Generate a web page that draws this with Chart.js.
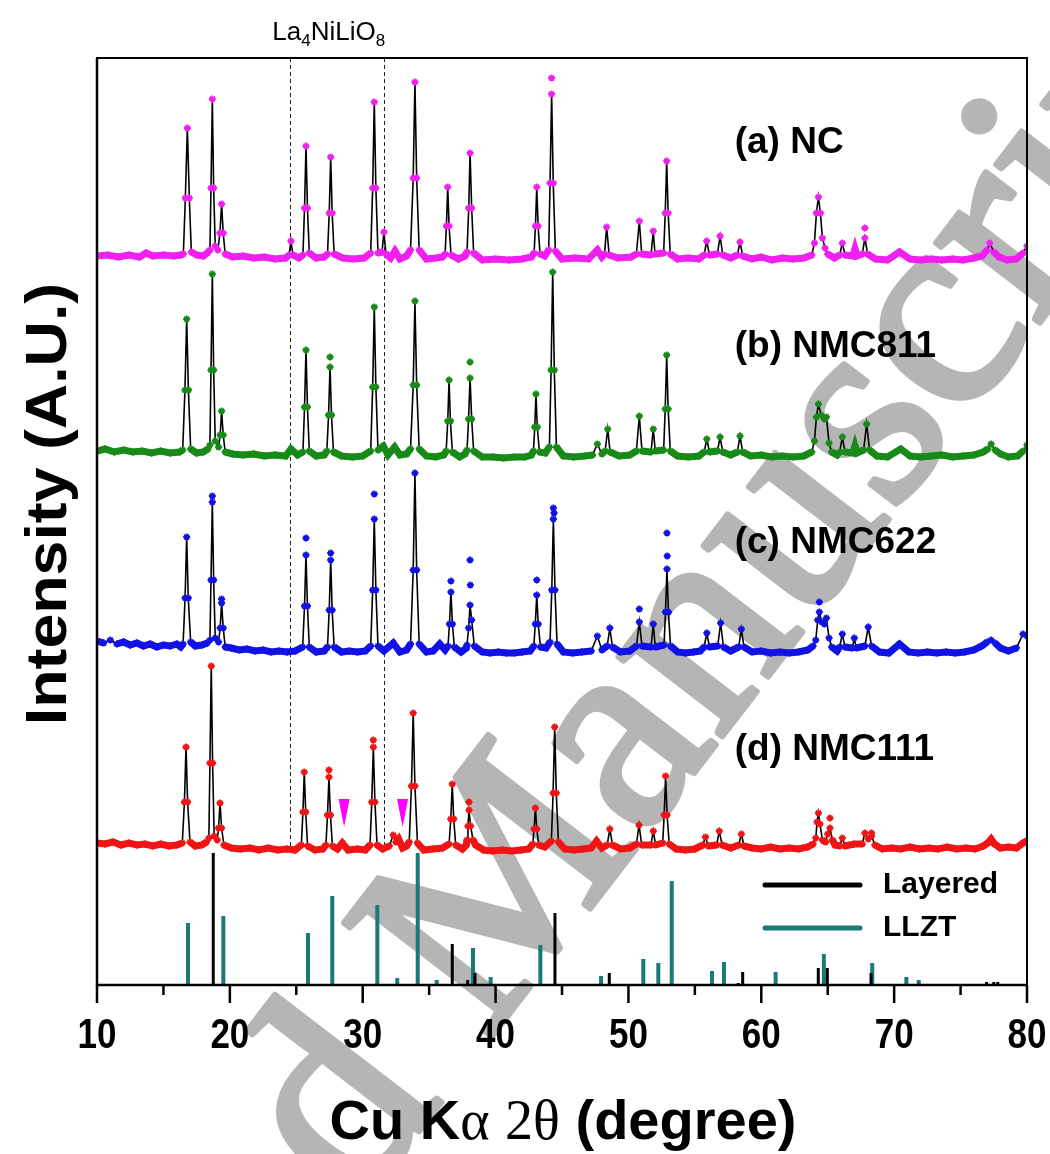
<!DOCTYPE html>
<html><head><meta charset="utf-8">
<script src="https://cdn.jsdelivr.net/npm/chart.js@4.4.1/dist/chart.umd.min.js"></script>
<style>html,body{margin:0;padding:0;background:#fff;}canvas{display:block;}</style>
</head><body>
<canvas id="c" width="1050" height="1154"></canvas>
<script>
// ---------------- DATA ----------------
const sampleNames = ['(a) NC', '(b) NMC811', '(c) NMC622', '(d) NMC111'];
const sampleColors = ['#f020f0', '#178a17', '#1212e6', '#f01414'];
const offsets = [727, 530, 335, 137];   // vertical stacking offsets (A.U.)

// [2theta, intensity above own baseline]
const ncProfile = [[10,2],[10.8,3],[11.6,1],[12.4,3],[13.2,1],[13.7,5],[14.2,2],[15,3],[15.8,2],[16.3,3],
 [16.5,4],[16.65,60],[16.8,130],[16.95,60],[17.1,6],[17.5,3],[18.0,2],[18.3,5],
 [18.5,8],[18.58,70],[18.68,159],[18.78,70],[18.9,12],
 [19.1,8],[19.25,25],[19.38,54],[19.5,25],[19.65,4],
 [20.2,1],[21,2],[21.8,0],[22.6,1],[23.4,-1],[24.2,0],[24.45,3],[24.6,17],[24.75,3],[25.2,0],
 [25.5,3],[25.62,50],[25.73,112],[25.84,50],[25.98,5],[26.5,0],[27.1,1],
 [27.35,4],[27.48,45],[27.59,101],[27.7,45],[27.85,4],[28.5,0],[29.3,-1],[30.1,0],
 [30.6,5],[30.75,70],[30.87,156],[30.99,70],[31.15,5],[31.45,6],[31.6,26],[31.75,4],
 [32.1,0],[32.43,7],[32.8,-1],[33.3,2],
 [33.6,8],[33.8,80],[33.93,176],[34.06,80],[34.25,8],[34.8,-1],[35.5,0],[36.0,1],
 [36.2,4],[36.3,32],[36.4,71],[36.5,32],[36.65,3],[37.2,-1],[37.7,2],
 [37.85,6],[37.98,50],[38.08,105],[38.2,50],[38.35,5],[39,-2],[40,-1],[41,-2],[42,-1],[42.7,1],
 [42.9,5],[43.0,32],[43.1,71],[43.2,32],[43.35,4],[43.7,2],
 [44.0,8],[44.1,75],[44.22,164],[44.34,75],[44.5,7],[45,-1],[46,0],[47,-1],[47.66,8],[48.0,1],
 [48.2,4],[48.36,31],[48.55,3],[49.2,0],[50.2,1],[50.6,4],[50.82,37],[51.0,4],
 [51.7,3],[51.87,27],[52.0,4],[52.65,5],[52.77,45],[52.88,97],[52.99,45],[53.15,4],
 [53.7,-1],[54.5,0],[55.3,-1],[55.7,3],[55.89,17],[56.1,3],[56.7,4],[56.9,22],[57.1,3],[57.7,0],
 [58.2,3],[58.4,16],[58.6,2],[59.3,-1],[60,1],[60.8,-2],[61.6,0],[62.4,-1],[63.2,0],[63.8,3],
 [64.0,15],[64.15,45],[64.3,61],[64.45,45],[64.6,20],[64.8,10],[65.0,4],[65.5,0],
 [65.9,3],[66.1,15],[66.3,3],[66.9,2],[67.05,9],[67.2,2],[67.6,4],[67.8,20],[68.0,4],
 [68.6,-1],[69.5,-2],[70.4,6],[71.2,-1],[72,-2],[72.8,-1],[73.6,-2],[74.4,-1],[75.2,-2],[76,0],[76.6,2],
 [77.0,8],[77.2,15],[77.5,6],[77.9,1],[78.5,-2],[79.2,-1],[79.7,5],[80,12]];
const ncTops = [[44.22,180],[67.8,30]];

const nmc811Profile = [[10,4],[10.6,6],[11.3,3],[12,5],[12.7,3],[13.4,4],[14.1,2],[14.8,4],[15.5,2],[16.2,3],
 [16.45,5],[16.62,65],[16.75,136],[16.88,65],[17.05,6],[17.5,2],[18.0,3],[18.35,6],
 [18.5,10],[18.58,85],[18.68,181],[18.78,85],[18.9,14],
 [19.15,8],[19.27,20],[19.38,44],[19.5,20],[19.65,3],
 [20.2,1],[21,0],[21.8,1],[22.6,-1],[23.4,0],[24.2,-1],[24.6,6],[25.1,0],
 [25.5,3],[25.62,48],[25.73,105],[25.84,48],[25.98,4],[26.5,-1],[27.1,0],
 [27.3,4],[27.43,40],[27.54,88],[27.65,40],[27.8,3],[28.4,-1],[29.2,-2],[30.0,-1],
 [30.6,4],[30.75,68],[30.87,148],[30.99,68],[31.15,5],[31.55,9],[31.9,0],[32.4,8],[32.8,0],[33.3,1],
 [33.6,6],[33.8,70],[33.93,154],[34.06,70],[34.25,6],[34.8,-1],[35.5,-2],[36.1,0],
 [36.28,4],[36.4,34],[36.5,75],[36.6,34],[36.75,3],[37.3,-2],[37.7,1],
 [37.85,5],[37.97,36],[38.08,77],[38.2,36],[38.35,4],[39,-2],[39.8,-2],[40.6,-3],[41.4,-2],[42.2,-2],[42.7,0],
 [42.85,4],[42.95,28],[43.04,61],[43.14,28],[43.3,3],[43.75,2],
 [44.05,8],[44.18,85],[44.3,183],[44.42,85],[44.58,8],[45.1,-1],[45.9,-2],[46.7,-1],[47.3,0],[47.66,11],[48.0,1],
 [48.25,4],[48.44,26],[48.62,3],[49.3,-1],[50.1,0],[50.6,4],[50.82,39],[51.02,4],
 [51.7,3],[51.87,26],[52.02,4],[52.65,5],[52.77,46],[52.88,100],[52.99,46],[53.15,4],
 [53.7,-1],[54.5,-2],[55.3,-1],[55.7,3],[55.9,16],[56.1,3],[56.7,4],[56.9,18],[57.1,3],[57.7,0],
 [58.2,3],[58.4,19],[58.6,3],[59.2,-1],[60,0],[60.8,-2],[61.6,-1],[62.4,-2],[63.2,-1],[63.8,3],
 [64.0,14],[64.15,38],[64.3,51],[64.5,40],[64.75,36],[64.9,38],[65.1,12],[65.3,3],[65.7,0],
 [65.9,3],[66.1,18],[66.3,3],[66.9,2],[67.05,9],[67.2,2],[67.7,5],[67.93,31],[68.15,5],
 [68.7,-1],[69.5,-2],[70.5,6],[71.2,-1],[72,-2],[72.8,-1],[73.6,0],[74.4,-2],[75.2,-1],[76,0],[76.7,3],
 [77.05,6],[77.3,11],[77.6,5],[78,1],[78.6,-2],[79.3,-1],[79.7,4],[80,10]];
const nmc811Tops = [[27.54,98],[38.08,93]];

const nmc622Profile = [[10,9],[10.5,7],[11,10],[11.5,6],[12,8],[12.5,5],[13,7],[13.5,4],[14,6],[14.5,3],[15,5],[15.5,4],[16,6],[16.3,3],
 [16.48,6],[16.63,52],[16.75,113],[16.87,52],[17.05,8],[17.4,4],[17.9,5],[18.3,7],
 [18.5,10],[18.58,70],[18.68,148],[18.78,70],[18.9,12],
 [19.15,8],[19.27,22],[19.38,47],[19.5,22],[19.65,3],
 [20.1,2],[20.7,0],[21.3,1],[21.9,-1],[22.5,0],[23.1,-2],[23.7,-1],[24.3,-2],[24.9,-1],
 [25.48,3],[25.62,44],[25.73,95],[25.84,44],[25.98,3],[26.5,-2],[27.1,-1],
 [27.35,3],[27.48,40],[27.59,90],[27.7,40],[27.85,3],[28.4,-2],[29,-1],[29.6,-2],[30.2,-1],
 [30.6,4],[30.75,60],[30.87,131],[30.99,60],[31.15,4],[31.6,-1],[32.3,7],[32.8,-2],[33.3,0],
 [33.6,6],[33.8,80],[33.93,177],[34.06,80],[34.25,6],[34.8,-2],[35.3,-1],[35.8,6],[36.2,0],
 [36.42,4],[36.53,26],[36.64,58],[36.75,26],[36.9,3],[37.4,-2],[37.8,2],
 [37.85,5],[37.97,22],[38.08,45],[38.2,30],[38.4,4],[39,-2],[39.6,-3],[40.2,-2],[40.8,-3],[41.4,-3],[42,-2],[42.6,-1],
 [42.88,4],[42.99,26],[43.1,55],[43.21,26],[43.38,3],[43.8,2],
 [44.1,8],[44.23,60],[44.35,131],[44.47,60],[44.63,6],[45.1,-2],[45.8,-3],[46.5,-2],[47.2,-1],[47.66,14],[48.0,0],
 [48.4,4],[48.6,22],[48.8,3],[49.4,-2],[50.1,-1],[50.6,4],[50.82,28],[51.02,4],
 [51.7,3],[51.87,26],[52.02,3],[52.68,5],[52.79,38],[52.9,81],[53.01,38],[53.17,4],
 [53.7,-2],[54.3,-3],[54.9,-2],[55.4,-1],[55.7,3],[55.9,17],[56.1,3],[56.72,4],[56.94,27],[57.15,3],[57.7,-1],
 [58.3,3],[58.5,21],[58.7,3],[59.3,-2],[60,-1],[60.7,-3],[61.4,-2],[62.1,-3],[62.8,-2],[63.5,0],[63.9,4],
 [64.1,10],[64.25,30],[64.37,38],[64.55,28],[64.75,26],[64.9,32],[65.1,12],[65.3,3],[65.7,-1],
 [65.9,3],[66.1,16],[66.3,3],[66.85,2],[67.0,12],[67.15,2],[67.8,4],[68.05,23],[68.3,4],
 [68.9,-2],[69.6,-3],[70.4,6],[71.1,-2],[71.8,-3],[72.5,-2],[73.2,-3],[73.9,-2],[74.6,-3],[75.3,-2],[76,0],[76.6,4],
 [77.0,8],[77.3,10],[77.6,7],[78,2],[78.6,-1],[79.2,2],[79.7,16],[80,14]];
const nmc622Tops = [[18.68,154],[19.38,51],[25.73,112],[27.59,97],[30.87,156],[36.64,69],[38.08,90],[38.1,65],
 [43.1,70],[44.35,142],[44.4,137],[50.82,41],[52.9,117],[52.92,94],[64.37,48]];

const nmc111Profile = [[10,5],[10.6,4],[11.2,6],[11.8,3],[12.4,5],[13,3],[13.6,4],[14.2,2],[14.8,4],[15.4,2],[16,3],
 [16.42,5],[16.58,46],[16.7,101],[16.82,46],[17.0,6],[17.4,2],[17.9,3],[18.25,6],
 [18.42,10],[18.5,85],[18.6,182],[18.7,85],[18.82,12],
 [19.05,8],[19.15,20],[19.26,45],[19.38,20],[19.55,3],
 [20.1,0],[20.8,-1],[21.5,0],[22.2,-2],[22.9,0],[23.6,-2],[24.3,-1],[24.9,-2],
 [25.38,3],[25.5,36],[25.6,76],[25.71,36],[25.85,2],[26.4,-2],[27.0,-1],
 [27.23,3],[27.35,33],[27.46,71],[27.57,33],[27.72,2],[28.1,-1],[28.46,5],[28.9,-2],[29.6,-1],[30.2,-2],
 [30.55,3],[30.68,46],[30.8,101],[30.92,46],[31.08,3],[31.5,-1],[32.0,2],[32.3,13],[32.5,6],[32.7,9],[33.0,0],[33.3,2],
 [33.5,6],[33.67,62],[33.8,135],[33.93,62],[34.12,5],[34.6,-2],[35.3,-1],[36.0,0],
 [36.5,4],[36.63,29],[36.74,64],[36.85,29],[37.0,3],[37.5,-1],[37.8,3],
 [37.85,8],[37.92,22],[38.0,38],[38.12,22],[38.3,8],[38.5,3],[39.1,-2],[39.8,-3],[40.5,-2],[41.2,-3],[41.9,-2],[42.5,-1],
 [42.8,4],[42.9,19],[43.0,40],[43.1,19],[43.25,3],[43.7,1],
 [44.2,7],[44.33,55],[44.45,121],[44.57,55],[44.73,6],[45.2,-1],[45.9,-2],[46.6,-1],[47.2,0],[47.6,7],[48.0,0],
 [48.4,3],[48.6,19],[48.8,3],[49.4,-1],[50.1,0],[50.6,4],[50.8,23],[51.0,3],
 [51.7,3],[51.87,17],[52.05,3],[52.58,5],[52.69,33],[52.8,72],[52.91,33],[53.07,4],
 [53.6,-1],[54.3,-2],[55,-1],[55.6,3],[55.8,11],[56.0,2],[56.64,3],[56.84,17],[57.05,3],[57.7,0],
 [58.3,3],[58.5,14],[58.7,2],[59.3,0],[60,-1],[60.7,1],[61.4,-1],[62.1,0],[62.8,-1],[63.5,1],[63.9,4],
 [64.1,10],[64.2,26],[64.3,35],[64.42,24],[64.6,8],[64.85,6],[65.0,14],[65.17,20],[65.35,8],[65.55,3],
 [65.9,2],[66.1,10],[66.3,2],[67.0,4],[67.6,4],[67.8,15],[68.05,9],[68.3,12],[68.55,3],
 [69.1,-1],[69.8,0],[70.5,-1],[71.2,1],[71.9,-1],[72.6,0],[73.3,-1],[74,1],[74.7,-1],[75.4,0],[76.1,-1],[76.7,2],
 [77.05,5],[77.3,9],[77.55,4],[78,0],[78.6,1],[79.2,0],[79.7,5],[80,7]];
const nmc111Tops = [[27.46,78],[30.8,108],[38.0,46],[65.17,30],[68.3,15]];

// reference stick patterns
const layeredPos = [18.75, 36.74, 37.9, 38.45, 44.47, 48.56, 58.27, 58.6, 64.29, 64.97, 68.26, 76.96, 77.5, 77.8];
const layeredInt = [132, 41, 5, 12, 72, 12, 2, 13, 17, 17, 12, 3, 3, 3];
const llztPos = [16.85, 19.51, 25.88, 27.71, 31.1, 32.6, 34.14, 35.57, 38.3, 39.63, 43.37, 47.94, 51.12, 52.25, 53.26, 56.29, 57.19, 61.08, 64.71, 68.35, 70.92, 71.85];
const llztInt = [62, 69, 52, 89, 80, 7, 132, 5, 37, 8, 40, 9, 26, 22, 104, 14, 23, 13, 31, 22, 8, 5];

const impurityPos = [28.6, 33.0];          // La4NiLiO8-type impurity marks on NMC111
const impurityLevel = 21;                  // tip height above NMC111 baseline
const laLines = [24.55, 31.58];            // La4NiLiO8 reference positions
const xTicks = [10, 20, 30, 40, 50, 60, 70, 80];
const legendNames = ['Layered', 'LLZT'];
const stickColors = ['#000000', '#1a7a78'];

// ---------------- BUILD ----------------
const profiles = [ncProfile, nmc811Profile, nmc622Profile, nmc111Profile];
const tops = [ncTops, nmc811Tops, nmc622Tops, nmc111Tops];
const toXY = (arr, off) => arr.map(p => ({x: p[0], y: p[1] + off}));
const sticks = (pos, val) => { const out = []; pos.forEach((p, i) => { out.push({x: p, y: 0}, {x: p, y: val[i]}, {x: p, y: null}); }); return out; };

const datasets = [];
profiles.forEach((prof, i) => {
  const off = offsets[i], col = sampleColors[i];
  const base = v => Math.abs(v - off) < 10;
  datasets.push({ label: sampleNames[i] + ' fit', data: toXY(prof, off), borderColor: '#000', borderWidth: 1.6,
    pointRadius: 0, order: 5, tension: 0 });
  datasets.push({ label: sampleNames[i], data: toXY(prof, off), borderColor: col, borderWidth: 7,
    segment: { borderColor: c => (base(c.p0.parsed.y) && base(c.p1.parsed.y)) ? col : 'rgba(0,0,0,0)' },
    pointStyle: 'star', pointRadius: 3.5, pointBorderWidth: 1.8, pointBorderColor: col, pointBackgroundColor: col,
    order: 3, tension: 0 });
  datasets.push({ label: sampleNames[i] + ' obs', data: toXY(tops[i], off), showLine: false,
    pointStyle: 'star', pointRadius: 3.5, pointBorderWidth: 1.8, pointBorderColor: col, pointBackgroundColor: col, order: 2 });
});
datasets.push({ label: legendNames[1], data: sticks(llztPos, llztInt), borderColor: stickColors[1], borderWidth: 4,
  borderCapStyle: 'butt', pointRadius: 0, spanGaps: false, order: 7 });
datasets.push({ label: legendNames[0], data: sticks(layeredPos, layeredInt), borderColor: stickColors[0], borderWidth: 3,
  borderCapStyle: 'butt', pointRadius: 0, spanGaps: false, order: 6 });

const SANS = '"Liberation Sans", Arial, sans-serif';
const SERIF = '"Liberation Serif", "Times New Roman", serif';

function stretchedText(ctx, txt, x, y, font, sx, sy, align, baseline) {
  ctx.save(); ctx.translate(x, y); ctx.scale(sx, sy);
  ctx.font = font; ctx.textAlign = align; ctx.textBaseline = baseline; ctx.fillText(txt, 0, 0); ctx.restore();
}

const deco = {
  id: 'deco',
  beforeDraw(chart) {
    const ctx = chart.ctx;
    ctx.save(); ctx.fillStyle = '#fff'; ctx.fillRect(0, 0, chart.width, chart.height);
    // watermark
    ctx.translate(487, 1043); ctx.rotate(-52.5 * Math.PI / 180);
    ctx.font = '285px ' + SERIF; ctx.fillStyle = '#b5b5b5'; ctx.strokeStyle = '#b5b5b5'; ctx.lineWidth = 6;
    ctx.lineJoin = 'round'; ctx.textBaseline = 'alphabetic';
    const w = ctx.measureText('Accepted ').width;
    ctx.fillText('Accepted Manuscript', -w, 0);
    ctx.strokeText('Accepted Manuscript', -w, 0);
    ctx.restore();
  },
  beforeDatasetsDraw(chart) {
    const ctx = chart.ctx, xs = chart.scales.x, ys = chart.scales.y, a = chart.chartArea;
    ctx.save(); ctx.strokeStyle = '#222'; ctx.lineWidth = 1; ctx.setLineDash([4, 3]);
    laLines.forEach(v => { const px = Math.round(xs.getPixelForValue(v)) + 0.5;
      ctx.beginPath(); ctx.moveTo(px, a.top); ctx.lineTo(px, ys.getPixelForValue(offsets[3])); ctx.stroke(); });
    ctx.restore();
  },
  afterDatasetsDraw(chart) {
    const ctx = chart.ctx, xs = chart.scales.x, ys = chart.scales.y, a = chart.chartArea;
    ctx.save();
    // impurity triangles
    ctx.fillStyle = '#ff00ff';
    impurityPos.forEach(v => { const px = xs.getPixelForValue(v), py = ys.getPixelForValue(offsets[3] + impurityLevel);
      ctx.beginPath(); ctx.moveTo(px - 5.5, py - 28); ctx.lineTo(px + 5.5, py - 28); ctx.lineTo(px, py); ctx.closePath(); ctx.fill(); });
    // frame
    ctx.strokeStyle = '#000'; ctx.lineWidth = 2;
    ctx.strokeRect(a.left, a.top, a.right - a.left, a.bottom - a.top);
    ctx.lineWidth = 2.5;
    ctx.beginPath(); ctx.moveTo(a.left, a.top); ctx.lineTo(a.left, a.bottom); ctx.lineTo(a.right, a.bottom); ctx.stroke();
    // ticks
    for (let v = 10; v <= 80; v += 5) {
      const px = xs.getPixelForValue(v), major = v % 10 === 0;
      ctx.beginPath(); ctx.moveTo(px, a.bottom); ctx.lineTo(px, a.bottom + (major ? 18 : 10)); ctx.stroke();
    }
    ctx.fillStyle = '#000';
    xTicks.forEach(v => stretchedText(ctx, String(v), xs.getPixelForValue(v), 1048, 'bold 35px ' + SANS, 1, 1.22, 'center', 'alphabetic'));
    // x title with mixed fonts
    const parts = [['Cu K', 'bold 56px ' + SANS], ['\u03B1', '56px ' + SERIF], [' ', 'bold 56px ' + SANS], ['2\u03B8', '56px ' + SERIF], [' (degree)', 'bold 56px ' + SANS]];
    let tot = 0; parts.forEach(p => { ctx.font = p[1]; tot += ctx.measureText(p[0]).width; });
    let cx = 563 - tot / 2; ctx.textBaseline = 'alphabetic'; ctx.textAlign = 'left';
    parts.forEach(p => { ctx.font = p[1]; ctx.fillText(p[0], cx, 1139); cx += ctx.measureText(p[0]).width; });
    // y title
    ctx.save(); ctx.translate(66, 504); ctx.rotate(-Math.PI / 2); ctx.scale(1.1, 1);
    ctx.font = 'bold 57px ' + SANS; ctx.textAlign = 'center'; ctx.textBaseline = 'alphabetic'; ctx.fillText('Intensity (A.U.)', 0, 0);
    ctx.restore();
    // sample labels
    const labelLift = [115, 108, 107, 98];
    sampleNames.forEach((n, i) => { ctx.font = 'bold 37px ' + SANS; ctx.textAlign = 'left'; ctx.textBaseline = 'middle';
      ctx.fillText(n, xs.getPixelForValue(58.0), ys.getPixelForValue(offsets[i] + labelLift[i])); });
    // La4NiLiO8 label
    const la = [['La', 26, 0], ['4', 17, 6], ['NiLiO', 26, 0], ['8', 17, 6]];
    let lx = xs.getPixelForValue(laLines[0]) - 18; ctx.textBaseline = 'alphabetic'; ctx.textAlign = 'left';
    la.forEach(s => { ctx.font = s[1] + 'px ' + SANS; ctx.fillText(s[0], lx, 40 + s[2]); lx += ctx.measureText(s[0]).width; });
    // legend
    legendNames.forEach((n, i) => { const y = 885 + i * 43;
      ctx.strokeStyle = stickColors[i]; ctx.lineWidth = 5; ctx.lineCap = 'round';
      ctx.beginPath(); ctx.moveTo(765, y); ctx.lineTo(860, y); ctx.stroke();
      ctx.font = 'bold 30px ' + SANS; ctx.textBaseline = 'middle'; ctx.textAlign = 'left'; ctx.fillText(n, 883, y); });
    ctx.restore();
  }
};

new Chart(document.getElementById('c'), {
  type: 'line',
  data: { datasets },
  options: {
    responsive: false, animation: false, events: [],
    layout: { padding: { left: 97, right: 23, top: 58, bottom: 169 } },
    plugins: { legend: { display: false }, tooltip: { enabled: false } },
    scales: {
      x: { type: 'linear', min: 10, max: 80, display: false },
      y: { type: 'linear', min: 0, max: 927, display: false }
    }
  },
  plugins: [deco]
});
</script>
</body></html>
